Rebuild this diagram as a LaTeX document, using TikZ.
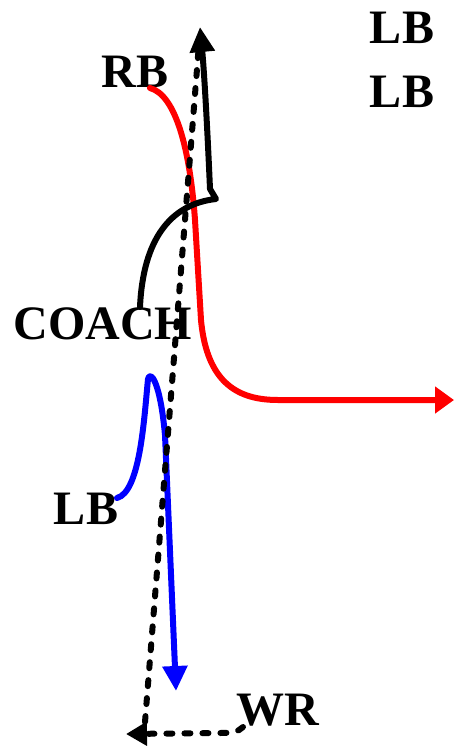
\documentclass[tikz,border=0pt]{standalone}
\usepackage{fontspec}
\setmainfont{Liberation Serif}
\usetikzlibrary{arrows.meta}
\begin{document}
\begin{tikzpicture}[x=1pt,y=-1pt,
  player/.style={font=\fontsize{48}{48}\selectfont\bfseries, inner sep=0pt},
  route/.style={line width=6pt, line cap=round, line join=round},
  ballpath/.style={route, black, dash pattern=on 6pt off 12pt},
  tipA/.style={-{Triangle[length=25pt,width=24pt]}},
  tipB/.style={-{Triangle[length=19pt,width=26pt]}},
  tipC/.style={-{Triangle[length=21pt,width=23pt]}}]
\useasboundingbox (0,0) rectangle (454,746);

% players
\node[player] (lb1) at (402,28) {LB};
\node[player] (lb2) at (402,92) {LB};
\node[player] (rb) at (135,72) {RB};
\node[player] (coach) at (103,324) {COACH};
\node[player] (lb3) at (86,509) {LB};
\node[player] (wr) at (278,710) {WR};

% route end points
\coordinate (rbS) at (150,88);
\coordinate (rbE) at (454,400);
\coordinate (coS) at (140,307);
\coordinate (coE) at (200,27);
\coordinate (lbS) at (117,498);
\coordinate (lbE) at (176,691);
\coordinate (wrS) at (243,727);
\coordinate (wrE) at (126,734);
\coordinate (bpS) at (145,722);
\coordinate (bpE) at (199,44);

% RB route (red)
\draw[route, red, tipB] (rbS) .. controls (176,95) and (190,150) .. (195,220)
  -- (201,320) .. controls (207,385) and (240,400) .. (278,400) -- (rbE);

% coach line (black)
\draw[route, black, tipA] (coS) .. controls (143,240) and (170,204) .. (216,199)
  -- (210,189) .. controls (207,120) and (204,70) .. (coE);

% LB route (blue)
\draw[route, blue, tipA] (lbS) .. controls (140,492) and (144,420) .. (148,379)
  .. controls (150,370) and (160,380) .. (165,435) -- (lbE);

% WR dashed paths
\draw[ballpath, tipC] (wrS) .. controls (238,732) and (232,733) .. (220,733) -- (wrE);
\draw[ballpath] (bpS) -- (bpE);
\end{tikzpicture}
\end{document}
